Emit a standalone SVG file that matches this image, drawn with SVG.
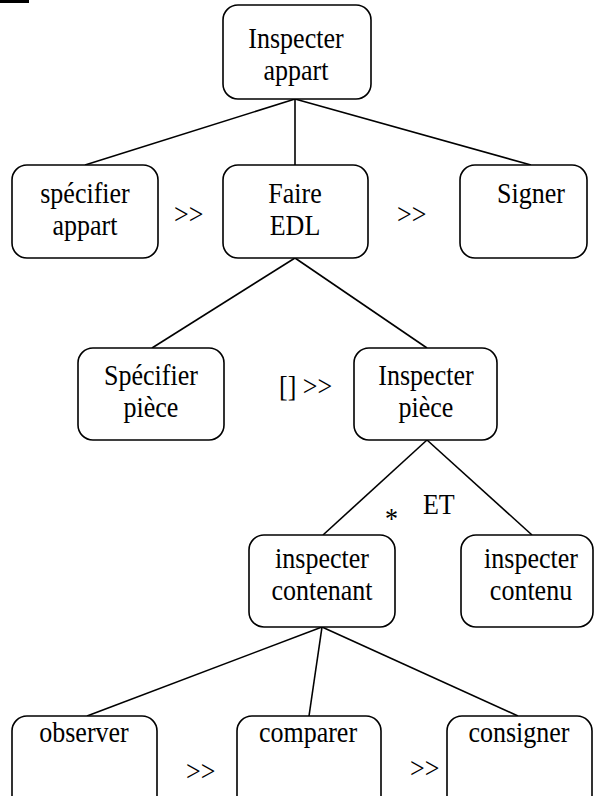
<svg xmlns="http://www.w3.org/2000/svg" width="595" height="796" viewBox="0 0 595 796">
<style>
.box{fill:#fff;stroke:#000;stroke-width:1.6}
.t{font-family:"Liberation Serif","Times New Roman",serif;font-size:26px;fill:#000;text-anchor:middle}
.l{font-family:"Liberation Serif","Times New Roman",serif;font-size:26px;fill:#000}
.c line{stroke:#000;stroke-width:1.6}
.s{transform:scale(1,1.1)}
</style>
<rect x="0" y="0" width="29" height="3" fill="#000"/>
<g class="c" id="connectors">
<line x1="295" y1="99" x2="85" y2="165"/>
<line x1="295" y1="99" x2="295" y2="165"/>
<line x1="295" y1="99" x2="531" y2="165"/>
<line x1="295" y1="258" x2="152" y2="348"/>
<line x1="295" y1="258" x2="427" y2="348"/>
<line x1="427" y1="440" x2="323" y2="535"/>
<line x1="427" y1="440" x2="532" y2="535"/>
<line x1="322" y1="627" x2="87" y2="716"/>
<line x1="322" y1="627" x2="309" y2="716"/>
<line x1="322" y1="627" x2="518" y2="716"/>
</g>
<g id="root"><rect class="box" x="223" y="5" width="148" height="94" rx="15"/><g transform="scale(1,1.1)"><text class="t" x="296" y="43.64">Inspecter</text><text class="t" x="296" y="72.73">appart</text></g></g>
<g id="specifier-appart"><rect class="box" x="12" y="165" width="146" height="93" rx="15"/><g transform="scale(1,1.1)"><text class="t" x="85" y="184.55">spécifier</text><text class="t" x="85" y="213.64">appart</text></g></g>
<g id="faire-edl"><rect class="box" x="223" y="165" width="145" height="93" rx="15"/><g transform="scale(1,1.1)"><text class="t" x="295" y="184.55">Faire</text><text class="t" x="295" y="213.64">EDL</text></g></g>
<g id="signer"><rect class="box" x="460" y="165" width="127" height="93" rx="15"/><g transform="scale(1,1.1)"><text class="t" x="531" y="184.55">Signer</text></g></g>
<g id="specifier-piece"><rect class="box" x="78" y="348" width="146" height="92" rx="15"/><g transform="scale(1,1.1)"><text class="t" x="151" y="350">Spécifier</text><text class="t" x="151" y="379.09">pièce</text></g></g>
<g id="inspecter-piece"><rect class="box" x="354" y="348" width="143" height="92" rx="15"/><g transform="scale(1,1.1)"><text class="t" x="426" y="350">Inspecter</text><text class="t" x="426" y="379.09">pièce</text></g></g>
<g id="inspecter-contenant"><rect class="box" x="249" y="535" width="146" height="92" rx="15"/><g transform="scale(1,1.1)"><text class="t" x="322" y="516.36">inspecter</text><text class="t" x="322" y="545.45">contenant</text></g></g>
<g id="inspecter-contenu"><rect class="box" x="461" y="535" width="132" height="92" rx="15"/><g transform="scale(1,1.1)"><text class="t" x="531" y="516.36">inspecter</text><text class="t" x="531" y="545.45">contenu</text></g></g>
<g id="observer"><rect class="box" x="12" y="716" width="145" height="95" rx="15"/><g transform="scale(1,1.1)"><text class="t" x="84" y="674.55">observer</text></g></g>
<g id="comparer"><rect class="box" x="237" y="716" width="144" height="95" rx="15"/><g transform="scale(1,1.1)"><text class="t" x="308" y="674.55">comparer</text></g></g>
<g id="consigner"><rect class="box" x="447" y="716" width="145" height="95" rx="15"/><g transform="scale(1,1.1)"><text class="t" x="519" y="674.55">consigner</text></g></g>
<g id="labels" transform="scale(1,1.1)">
<text class="l" x="174" y="203.64">&gt;&gt;</text>
<text class="l" x="397" y="203.64">&gt;&gt;</text>
<text class="l" x="279" y="360">[] &gt;&gt;</text>
<text class="l" x="385" y="480">*</text>
<text class="l" x="423" y="467.27">ET</text>
<text class="l" x="186" y="710">&gt;&gt;</text>
<text class="l" x="410" y="707.27">&gt;&gt;</text>
</g>
</svg>
